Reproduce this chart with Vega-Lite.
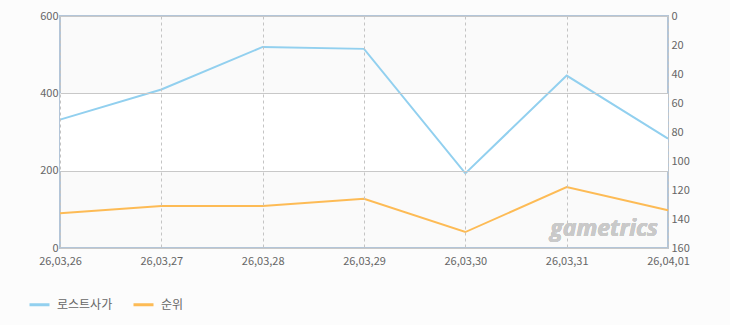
{
  "$schema": "https://vega.github.io/schema/vega-lite/v6.json",
  "width": 608,
  "height": 232,
  "autosize": {"type": "none"},
  "padding": {"left": 60, "top": 16, "right": 62, "bottom": 77},
  "background": "#fcfcfc",
  "config": {
    "font": "Noto Sans CJK KR",
    "view": {"stroke": "#b3c5d8", "strokeWidth": 2, "fill": "#fafafa"}
  },
  "data": {
    "values": [
      {"date": "26,03,26", "value": 332, "rank": 136},
      {"date": "26,03,27", "value": 410, "rank": 131},
      {"date": "26,03,28", "value": 520, "rank": 131},
      {"date": "26,03,29", "value": 515, "rank": 126},
      {"date": "26,03,30", "value": 193, "rank": 149},
      {"date": "26,03,31", "value": 446, "rank": 118},
      {"date": "26,04,01", "value": 283, "rank": 134}
    ]
  },
  "layer": [
    {
      "mark": {"type": "rect", "color": "#ffffff"},
      "encoding": {
        "y": {"datum": 200, "type": "quantitative", "scale": {"domain": [0, 600]}, "axis": null},
        "y2": {"datum": 400}
      }
    },
    {
      "mark": {"type": "line", "strokeWidth": 2},
      "encoding": {
        "x": {
          "field": "date",
          "type": "ordinal",
          "sort": null,
          "scale": {"type": "point", "padding": 0},
          "axis": {
            "title": null,
            "labelAngle": 0,
            "labelColor": "#666666",
            "labelFontSize": 11,
            "labelPadding": 7,
            "ticks": false,
            "domain": false,
            "grid": true,
            "gridColor": "#c4c4c4",
            "gridDash": [3, 3],
            "zindex": 1
          }
        },
        "y": {
          "field": "value",
          "type": "quantitative",
          "scale": {"domain": [0, 600]},
          "axis": {
            "title": null,
            "orient": "left",
            "values": [0, 200, 400, 600],
            "labelColor": "#666666",
            "labelFontSize": 11,
            "labelPadding": 2,
            "ticks": false,
            "domain": false,
            "grid": true,
            "gridColor": "#c8c8c8",
            "zindex": 1
          }
        },
        "color": {
          "datum": "로스트사가",
          "type": "nominal",
          "scale": {"domain": ["로스트사가", "순위"], "range": ["#92d0ef", "#fdbb55"]},
          "legend": {
            "title": null,
            "orient": "none",
            "legendX": -32,
            "legendY": 277,
            "direction": "horizontal",
            "symbolType": "stroke",
            "symbolSize": 400,
            "symbolStrokeWidth": 3,
            "labelFontSize": 12,
            "labelColor": "#666666",
            "labelOffset": 6,
            "columnPadding": 14
          }
        }
      }
    },
    {
      "mark": {"type": "line", "strokeWidth": 2},
      "encoding": {
        "x": {"field": "date", "type": "ordinal", "sort": null},
        "y": {
          "field": "rank",
          "type": "quantitative",
          "scale": {"domain": [0, 160], "reverse": true},
          "axis": {
            "title": null,
            "orient": "right",
            "values": [0, 20, 40, 60, 80, 100, 120, 140, 160],
            "labelColor": "#666666",
            "labelFontSize": 11,
            "labelPadding": 3,
            "ticks": false,
            "domain": false,
            "grid": false
          }
        },
        "color": {"datum": "순위", "type": "nominal"}
      }
    },
    {
      "mark": {
        "type": "text",
        "text": "gametrics",
        "font": "Open Sans",
        "fontStyle": "italic",
        "fontWeight": "bold",
        "fontSize": 23,
        "color": "#c9c9c9",
        "align": "right",
        "baseline": "alphabetic",
        "dx": -10
      },
      "encoding": {
        "x": {"datum": "26,04,01", "type": "ordinal"},
        "y": {"datum": 32, "type": "quantitative", "scale": {"domain": [0, 600]}, "axis": null}
      }
    }
  ],
  "resolve": {"scale": {"y": "independent"}, "axis": {"y": "independent"}}
}
